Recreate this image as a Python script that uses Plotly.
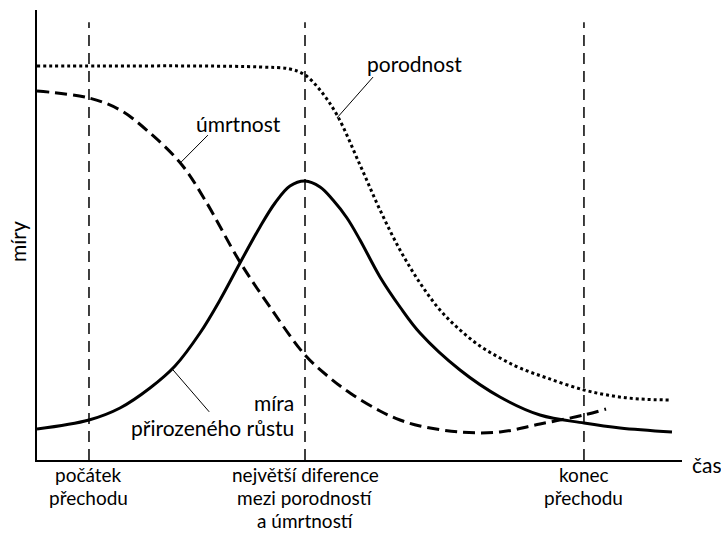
import plotly.graph_objects as go

# ---- data (time units 0-100, rate units 0-100) ----
birth_x = [0, 9.77, 25.27, 34.57, 39.22, 41.55, 43.88, 46.51, 50.08, 53.18, 56.28, 59.38, 62.48,
           65.58, 68.68, 71.78, 74.88, 79.07, 84.81, 89.30, 93.49, 98.29]
birth_y = [87.56, 87.56, 87.56, 87.33, 86.89, 85.56, 82.22, 76.67, 65.56, 55.56, 46.67, 39.33, 33.33,
           28.89, 25.33, 22.67, 20.44, 18.22, 15.56, 14.22, 13.56, 13.33]

death_x = [0, 8.06, 12.87, 17.52, 22.48, 26.05, 31.47, 36.12, 41.55, 45.43, 48.53, 53.18, 56.28,
           59.38, 65.58, 71.78, 77.98, 84.81, 88.22]
death_y = [82.0, 80.44, 77.78, 72.67, 65.56, 57.78, 44.0, 34.0, 23.33, 18.22, 14.89, 10.89, 8.89,
           7.56, 6.22, 6.22, 8.0, 10.0, 11.33]

growth_x = [0, 8.06, 12.87, 17.52, 21.40, 25.27, 28.37, 31.47, 34.57, 36.90, 39.22, 41.55, 43.88, 45.89,
            48.06, 50.08, 53.18, 56.28, 59.38, 65.58, 71.78, 77.98, 84.81, 90.39, 98.45]
growth_y = [6.89, 8.89, 11.56, 16.0, 20.89, 28.22, 35.56, 43.78, 51.78, 57.11, 60.89, 62.0, 60.67, 57.78,
            53.78, 48.89, 40.67, 34.0, 28.22, 20.0, 14.0, 10.0, 8.22, 7.11, 6.22]

phase_x = [8.06, 41.55, 84.8]
phase_labels = [["počátek", "přechodu"],
                ["největší diference", "mezi porodností", "a úmrtností"],
                ["konec", "přechodu"]]
phase_top = 97.3

FONT = "Lato"
FS = 21
FS_AXIS = 19

fig = go.Figure()

for px in phase_x:
    fig.add_trace(go.Scatter(x=[px, px], y=[0, phase_top], mode="lines",
                             line=dict(color="black", width=1.5, dash="11px,7px"),
                             showlegend=False, hoverinfo="skip"))

fig.add_trace(go.Scatter(x=birth_x, y=birth_y, mode="lines", line_shape="spline",
                         line=dict(color="black", width=3, dash="3px,3px"),
                         showlegend=False, name="porodnost"))
fig.add_trace(go.Scatter(x=death_x, y=death_y, mode="lines", line_shape="spline",
                         line=dict(color="black", width=3, dash="12px,6px"),
                         showlegend=False, name="úmrtnost"))
fig.add_trace(go.Scatter(x=growth_x, y=growth_y, mode="lines", line_shape="spline",
                         line=dict(color="black", width=3),
                         showlegend=False, name="míra přirozeného růstu"))

# leader lines
for (x0, y0, x1, y1) in [(52.1, 85.1, 46.5, 76.0), (26.5, 72.2, 22.2, 66.0), (21.1, 20.0, 26.7, 10.7)]:
    fig.add_shape(type="line", xref="x", yref="y", x0=x0, y0=y0, x1=x1, y1=y1,
                  line=dict(color="black", width=1))


def label(text, x, y, xref="x", yref="y", xanchor="center", yshift=0, angle=0, size=FS):
    fig.add_annotation(x=x, y=y, xref=xref, yref=yref, text=text, showarrow=False,
                       xanchor=xanchor, yanchor="middle",
                       font=dict(family=FONT, size=size, color="black"),
                       yshift=yshift, textangle=angle)


label("porodnost", 58.6, 88.2)
label("úmrtnost", 31.2, 74.7)
label("míra", 40.1, 12.7, xanchor="right")
label("přirozeného růstu", 40.1, 7.3, xanchor="right")
label("čas", 1.0124, 0, xref="paper", yref="paper", xanchor="left", yshift=-4)
label("míry", -0.030, 0.486, xref="paper", yref="paper", angle=-90)

# x-axis phase labels, one annotation per line
for px, lines in zip(phase_x, phase_labels):
    for i, line in enumerate(lines):
        label(line, px, 0, yref="paper", yshift=-(14 + 23 * i), size=FS_AXIS)

fig.update_layout(
    width=721, height=533,
    margin=dict(l=37, r=39, t=10, b=73),
    paper_bgcolor="white", plot_bgcolor="white",
    xaxis=dict(range=[0, 100], showgrid=False, zeroline=False, showline=True, automargin=False,
               linecolor="black", linewidth=1.5, ticks="", showticklabels=False),
    yaxis=dict(range=[0, 100], showgrid=False, zeroline=False, showline=True, automargin=False,
               linecolor="black", linewidth=1.5, ticks="", showticklabels=False),
)

fig.write_html("out.html", config={"displayModeBar": False},
               post_script="document.body.style.margin='0';document.body.style.overflow='hidden';")
